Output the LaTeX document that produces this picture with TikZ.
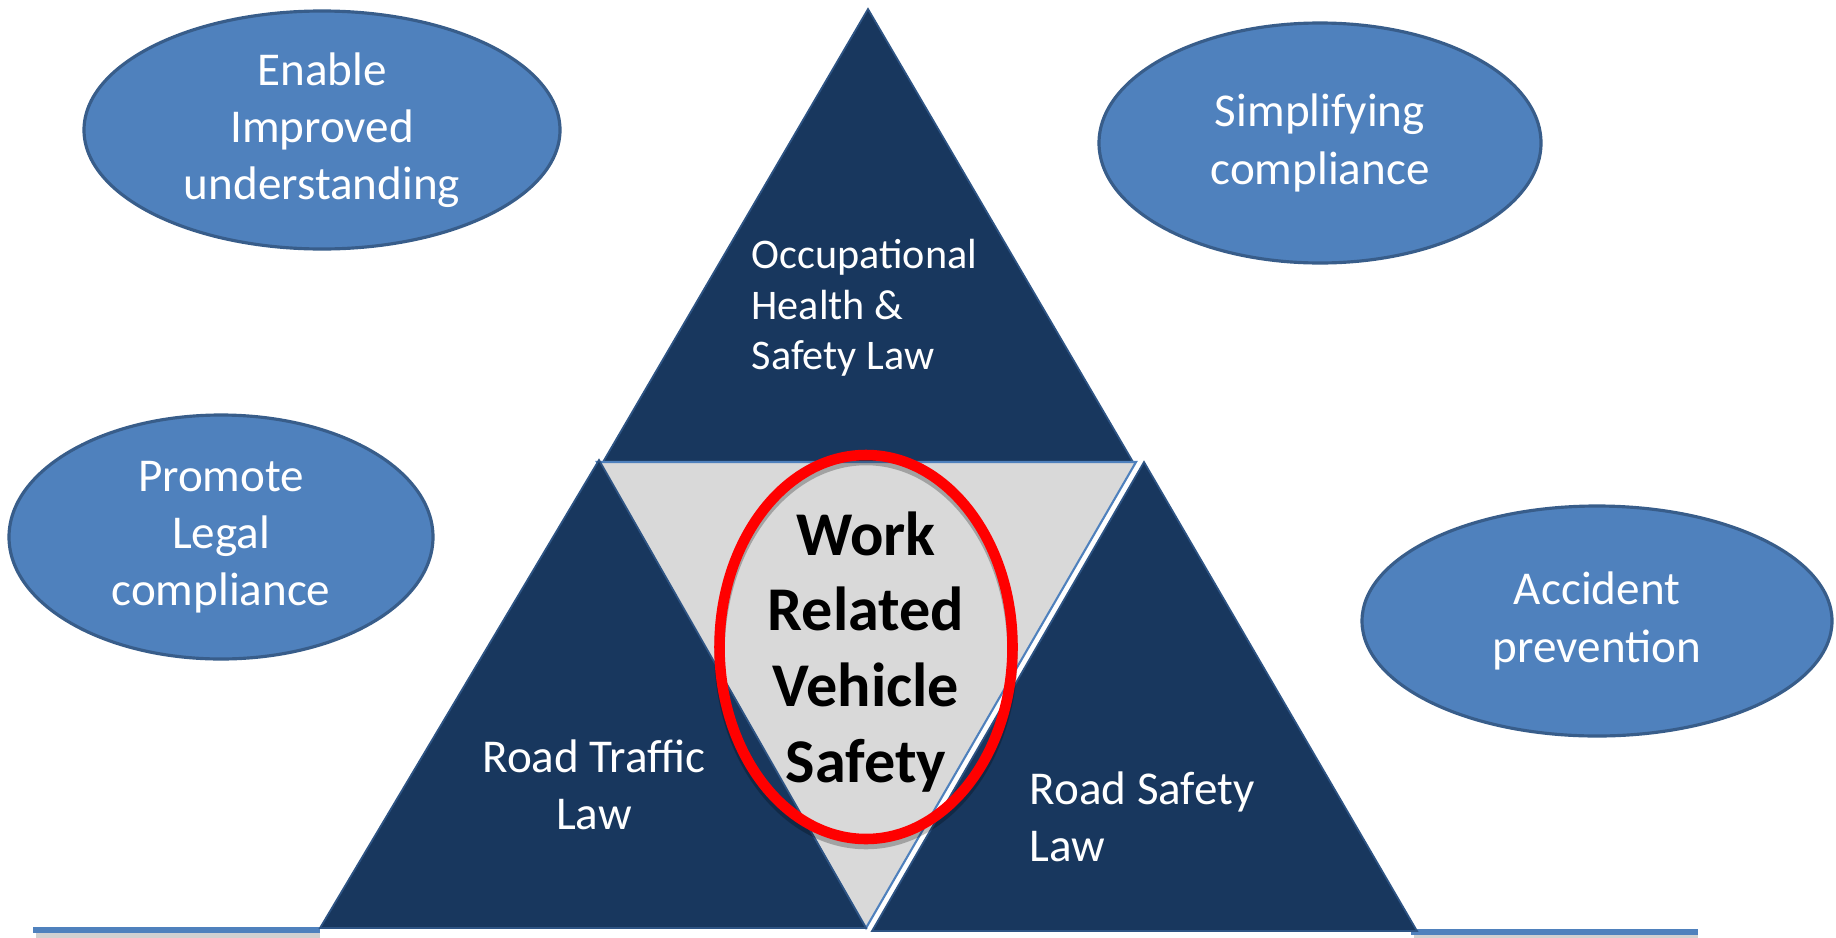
\documentclass[tikz,border=0pt]{standalone}
\usepackage{fontspec}
\setmainfont{Carlito}
\usetikzlibrary{shapes.geometric}
\definecolor{navy}{RGB}{24,55,94}
\definecolor{navyedge}{RGB}{46,84,132}
\definecolor{goalblue}{RGB}{79,129,189}
\definecolor{goaledge}{RGB}{56,93,138}
\definecolor{coregray}{RGB}{217,217,217}
\tikzset{
	goal/.style={ellipse, fill=goalblue, draw=goaledge, line width=0.9pt, text=white, align=center, inner sep=0pt, font=\fontsize{13.4}{16.3}\selectfont},
	lawtri/.style={fill=navy, draw=navyedge, line width=0.5pt},
	lawtext/.style={text=white, inner sep=0pt, font=\fontsize{13.4}{16.3}\selectfont},
	ground/.style={line width=1.6pt, color=goalblue},
	ringline/.style={ellipse, line width=3pt, minimum width=2.93cm, minimum height=3.84cm}
}

\begin{document}
\begin{tikzpicture}
		%%%%% START %%%%%
		\useasboundingbox (0, 0) rectangle (18.36, 9.37);
		
		\draw[line width=1.6pt, color=black!18] (0.36, 0.02) -- (3.20, 0.02);
		\draw[line width=1.6pt, color=black!18] (14.14, 0.00) -- (16.98, 0.00);
		\draw[ground] (0.33, 0.07) -- (3.20, 0.07);
		\draw[ground] (14.11, 0.05) -- (16.98, 0.05);
		
		\draw[lawtri] (8.68, 9.28) -- (11.33, 4.75) -- (6.03, 4.75) -- cycle;
		\draw[fill=coregray, draw=goalblue, line width=0.6pt] (5.97, 4.75) -- (11.36, 4.75) -- (8.66, 0.09) -- cycle;
		\draw[lawtri] (5.99, 4.77) -- (8.66, 0.09) -- (3.20, 0.09) -- cycle;
		\draw[lawtri] (11.44, 4.75) -- (14.17, 0.06) -- (8.72, 0.06) -- cycle;
		
		\node[goal, minimum width=4.76cm, minimum height=2.38cm] (enable) at (3.22, 8.07) {Enable\\Improved\\understanding};
		\node[goal, minimum width=4.42cm, minimum height=2.40cm] (simplify) at (13.20, 7.94) {Simplifying\\compliance};
		\node[goal, minimum width=4.24cm, minimum height=2.44cm] (promote) at (2.21, 4.00) {Promote\\Legal\\compliance};
		\node[goal, minimum width=4.70cm, minimum height=2.30cm] (prevent) at (15.97, 3.16) {Accident\\prevention};
		
		\node[lawtext, anchor=west, align=left, font=\fontsize{12}{14.3}\selectfont] (ohs) at (7.51, 6.29) {Occupational\\Health \&\\Safety Law};
		\node[lawtext, align=center] (traffic) at (5.94, 1.52) {Road Traffic\\Law};
		\node[lawtext, anchor=west, align=left] (roadsafety) at (10.29, 1.20) {Road Safety\\Law};
		
		\node[ringline, draw=black, opacity=0.25] (ringshade) at (8.66, 2.85) {};
		\node[ringline, draw=red] (ring) at (8.66, 2.90) {};
		\node[align=center, inner sep=0pt, font=\fontsize{17.7}{21.6}\selectfont\bfseries] (wrvs) at (8.66, 2.85) {Work\\Related\\Vehicle\\Safety};
		
		%%%%% END %%%%%
\end{tikzpicture}
\end{document}
